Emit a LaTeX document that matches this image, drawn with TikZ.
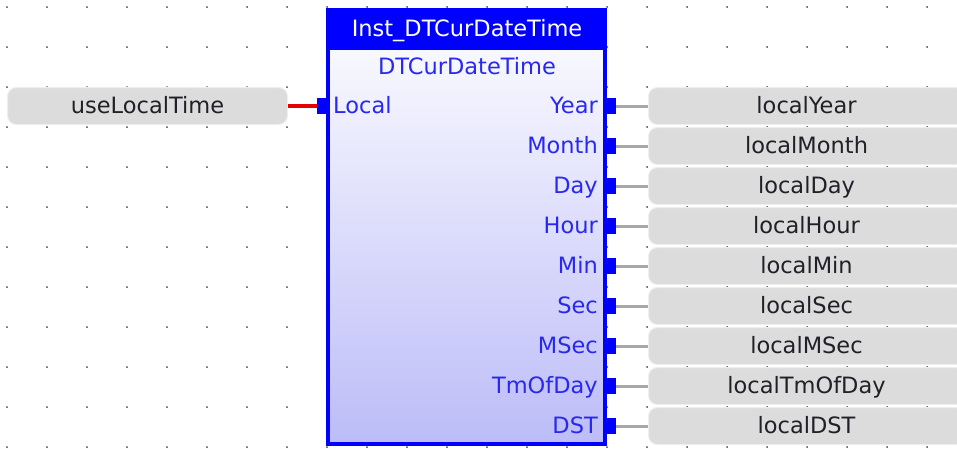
\documentclass[tikz,border=0pt]{standalone}
\usepackage{fontspec}
\setmainfont{DejaVu Sans}
\definecolor{fbdblue}{RGB}{0,0,255}
\definecolor{fbdtext}{RGB}{40,40,240}
\definecolor{varfill}{RGB}{220,220,220}
\definecolor{varline}{RGB}{238,238,238}
\definecolor{wiregrey}{RGB}{168,168,168}
\definecolor{gridgrey}{RGB}{70,70,70}
\definecolor{bodytop}{RGB}{248,248,255}
\definecolor{bodybot}{RGB}{188,188,248}
\definecolor{vartext}{RGB}{32,32,40}
\definecolor{boolred}{RGB}{230,0,0}
\begin{document}
\begin{tikzpicture}[x=1pt,y=-1pt,
  lbl/.style={font=\fontsize{22.5}{26}\selectfont, inner sep=0pt, text height=17pt, text depth=2pt},
  varbox/.style={lbl, draw=varline, line width=1pt, fill=varfill, rounded corners=9pt, minimum height=37pt, text=vartext},
  pinbox/.style={fill=fbdblue, inner sep=0pt, minimum width=11pt, minimum height=16pt},
  pinlbl/.style={lbl, text=fbdtext},
  wire/.style={line width=3pt, wiregrey},
  boolwire/.style={line width=4pt, boolred}
]
\useasboundingbox (0,0) rectangle (957,448);
\clip (0,0) rectangle (957,448);
\fill[white] (0,0) rectangle (957,448);
\foreach \i in {0,...,23} \foreach \j in {0,...,11} \fill[gridgrey] (7+40*\i,7+40*\j) circle (1pt);
% function block
\shade[top color=bodytop,bottom color=bodybot] (328,50) rectangle (605,444);
\fill[fbdblue] (326,8) rectangle (607,50);
\draw[fbdblue,line width=4pt] (328,10) rectangle (605,444);
\node[lbl,text=white] (inst) at (467,28.5) {Inst\_DTCurDateTime};
\node[pinlbl] (ftype) at (467,66.5) {DTCurDateTime};
% input
\node[varbox, minimum width=280pt, anchor=west] (uselt) at (7,106) {useLocalTime};
\node[pinbox, minimum width=10pt, anchor=east] (pLocal) at (327,106) {};
\node[pinlbl, anchor=west] (lLocal) at (333,106) {Local};
\draw[boolwire] (uselt.east) -- (pLocal.west);
% outputs
\foreach \n/\v [count=\k from 0] in {Year/localYear, Month/localMonth, Day/localDay, Hour/localHour, Min/localMin, Sec/localSec, MSec/localMSec, TmOfDay/localTmOfDay, DST/localDST}
{
  \pgfmathsetmacro\yy{106+40*\k}
  \node[pinbox, anchor=west] (p\n) at (605,\yy) {};
  \node[pinlbl, anchor=east] (l\n) at (598,\yy) {\n};
  \node[varbox, minimum width=316pt, anchor=west] (v\n) at (648,\yy) {\v};
  \draw[wire] (p\n.east) -- (v\n.west);
}
\end{tikzpicture}
\end{document}
